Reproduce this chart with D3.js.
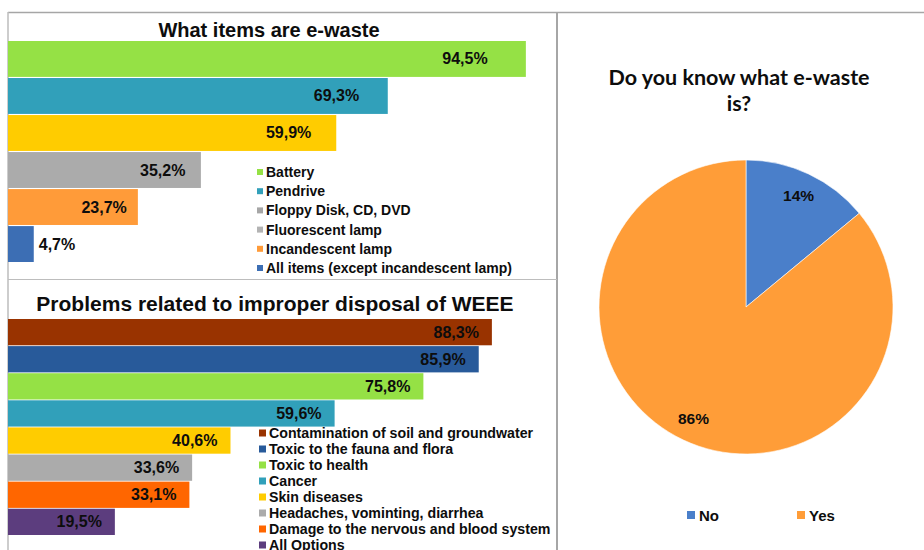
<!DOCTYPE html>
<html>
<head>
<meta charset="utf-8">
<script src="https://cdn.jsdelivr.net/npm/d3@7"></script>
<style>
html,body{margin:0;padding:0;background:#fff;}
svg{display:block;}
</style>
</head>
<body>
<svg id="chart" width="924" height="550"></svg>
<script>
// ---- Data ----
const itemsTitle = "What items are e-waste";
const itemsValues = [94.5, 69.3, 59.9, 35.2, 23.7, 4.7];
const itemsBarColors = ["#95E145", "#31A0BA", "#FFCC00", "#ABABAB", "#FF9B39", "#3C6EB4"];
const itemsLegend = ["Battery", "Pendrive", "Floppy Disk, CD, DVD", "Fluorescent lamp", "Incandescent lamp", "All items (except incandescent lamp)"];
const itemsLegendColors = ["#95E145", "#31A0BA", "#A6A6A6", "#B3B3B3", "#FF9B39", "#3C6EB4"];

const probTitle = "Problems related to improper disposal of WEEE";
const probValues = [88.3, 85.9, 75.8, 59.6, 40.6, 33.6, 33.1, 19.5];
const probColors = ["#993300", "#285A9A", "#95E145", "#31A0BA", "#FFCC00", "#ABABAB", "#FF6600", "#5C3D7E"];
const probLegend = ["Contamination of soil and groundwater", "Toxic to the fauna and flora", "Toxic to health", "Cancer", "Skin diseases", "Headaches, vominting, diarrhea", "Damage to the nervous and blood system", "All Options"];

const pieTitle = ["Do you know what e-waste", "is?"];
const pieLabels = ["No", "Yes"];
const pieValues = [14, 86];
const pieColors = ["#4A7FCA", "#FF9D38"];

const fmt = v => String(v.toFixed(1)).replace(".", ",") + "%";
const svg = d3.select("#chart");
const F = "'Liberation Sans', Arial, sans-serif";
const INK = "#0d0d0d";

// ---- Panel borders ----
svg.append("line").attr("x1", 8).attr("x2", 924).attr("y1", 12.5).attr("y2", 12.5).attr("stroke", "#A6A6A6").attr("stroke-width", 1.5);
svg.append("line").attr("x1", 8).attr("x2", 8).attr("y1", 12).attr("y2", 550).attr("stroke", "#BDBDBD").attr("stroke-width", 1.5);
svg.append("line").attr("x1", 557).attr("x2", 557).attr("y1", 12).attr("y2", 550).attr("stroke", "#A6A6A6").attr("stroke-width", 2);
svg.append("line").attr("x1", 8).attr("x2", 557).attr("y1", 279.5).attr("y2", 279.5).attr("stroke", "#BDBDBD").attr("stroke-width", 1.2);

// shared x scale
const x = d3.scaleLinear().domain([0, 100]).range([8, 556]);

// ---- Top bar chart ----
const g1 = svg.append("g");
g1.append("text").attr("x", 269).attr("y", 37).attr("text-anchor", "middle")
  .attr("font-family", F).attr("font-weight", "bold").attr("font-size", 20).attr("fill", INK)
  .text(itemsTitle);
const y1 = d3.scaleBand().domain(d3.range(itemsValues.length)).range([41, 262]).paddingInner(0.03);
g1.selectAll("rect").data(itemsValues).join("rect")
  .attr("x", x(0)).attr("y", (d, i) => y1(i))
  .attr("width", d => x(d) - x(0)).attr("height", y1.bandwidth())
  .attr("fill", (d, i) => itemsBarColors[i]);
g1.selectAll("text.lbl").data(itemsValues).join("text").attr("class", "lbl")
  .attr("x", d => (x(d) - x(0) < 40) ? x(d) + 5 : x(d * 0.93) - 2)
  .attr("text-anchor", d => (x(d) - x(0) < 40) ? "start" : "end")
  .attr("y", (d, i) => y1(i) + y1.bandwidth() / 2 + 5.5)
  .attr("font-family", F).attr("font-weight", "bold").attr("font-size", 16).attr("fill", INK)
  .text(fmt);
const leg1 = g1.append("g");
itemsLegend.forEach((t, i) => {
  const cy = 172 + i * 19.2;
  leg1.append("rect").attr("x", 257).attr("y", cy - 3).attr("width", 6).attr("height", 6).attr("fill", itemsLegendColors[i]);
  leg1.append("text").attr("x", 266).attr("y", cy + 5)
    .attr("font-family", F).attr("font-weight", "bold").attr("font-size", 14).attr("fill", INK).text(t);
});

// ---- Bottom bar chart ----
const g2 = svg.append("g");
g2.append("text").attr("x", 275).attr("y", 311).attr("text-anchor", "middle")
  .attr("font-family", F).attr("font-weight", "bold").attr("font-size", 21).attr("fill", INK)
  .text(probTitle);
const y2 = d3.scaleBand().domain(d3.range(probValues.length)).range([319, 535]).paddingInner(0.03);
g2.selectAll("rect").data(probValues).join("rect")
  .attr("x", x(0)).attr("y", (d, i) => y2(i))
  .attr("width", d => x(d) - x(0)).attr("height", y2.bandwidth())
  .attr("fill", (d, i) => probColors[i]);
g2.selectAll("text.lbl").data(probValues).join("text").attr("class", "lbl")
  .attr("x", d => x(d) - 13).attr("text-anchor", "end")
  .attr("y", (d, i) => y2(i) + y2.bandwidth() / 2 + 5.5)
  .attr("font-family", F).attr("font-weight", "bold").attr("font-size", 16).attr("fill", INK)
  .text(fmt);
const leg2 = g2.append("g");
probLegend.forEach((t, i) => {
  const cy = 433 + i * 16;
  leg2.append("rect").attr("x", 259).attr("y", cy - 3.5).attr("width", 7).attr("height", 7).attr("fill", probColors[i]);
  leg2.append("text").attr("x", 269).attr("y", cy + 5)
    .attr("font-family", F).attr("font-weight", "bold").attr("font-size", 14.2).attr("fill", INK).text(t);
});

// ---- Pie chart ----
const g3 = svg.append("g");
pieTitle.forEach((t, i) => {
  g3.append("text").attr("x", 739).attr("y", 85 + i * 26).attr("text-anchor", "middle")
    .attr("font-family", "Lato, 'Open Sans', sans-serif").attr("font-weight", "bold").attr("font-size", 21.5).attr("fill", INK)
    .text(t);
});
const cx = 746, cy = 307, r = 147;
const pie = d3.pie().sort(null).value(d => d)(pieValues);
const arc = d3.arc().innerRadius(0).outerRadius(r);
const labelArc = d3.arc().innerRadius(r * 0.84).outerRadius(r * 0.84);
const pg = g3.append("g").attr("transform", `translate(${cx},${cy})`);
pg.selectAll("path").data(pie).join("path")
  .attr("d", arc).attr("fill", (d, i) => pieColors[i]).attr("stroke", "#fff").attr("stroke-width", 0.6);
pg.selectAll("text").data(pie).join("text")
  .attr("transform", d => `translate(${labelArc.centroid(d)})`)
  .attr("text-anchor", "middle").attr("dy", 5.5)
  .attr("font-family", F).attr("font-weight", "bold").attr("font-size", 15.5).attr("fill", INK)
  .text(d => d.data + "%");
const legX = [687, 797];
pieLabels.forEach((t, i) => {
  g3.append("rect").attr("x", legX[i]).attr("y", 511).attr("width", 8).attr("height", 8).attr("fill", pieColors[i]);
  g3.append("text").attr("x", legX[i] + 12).attr("y", 520.5)
    .attr("font-family", F).attr("font-weight", "bold").attr("font-size", 15).attr("fill", INK).text(t);
});
</script>
</body>
</html>
